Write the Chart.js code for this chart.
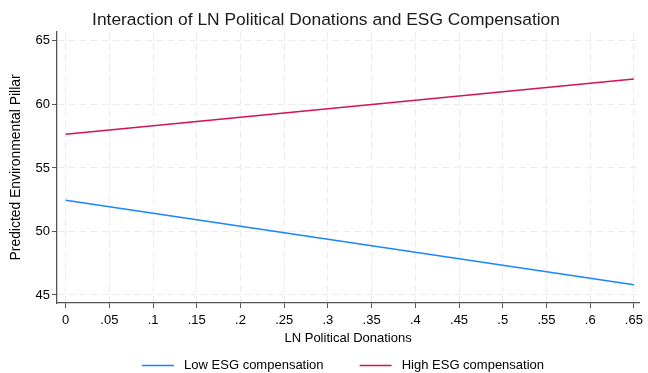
<!DOCTYPE html>
<html>
<head>
<meta charset="utf-8">
<title>Interaction of LN Political Donations and ESG Compensation</title>
<script src="https://cdn.jsdelivr.net/npm/chart.js@4.4.1/dist/chart.umd.min.js"></script>
<style>
  html, body { margin: 0; padding: 0; background: #fff; }
  #wrap { width: 648px; height: 373px; }
</style>
</head>
<body>
<div id="wrap"><canvas id="c" width="648" height="373"></canvas></div>
<script>
// Predicted margins at the ends of the LN Political Donations range
const donations = [0, 0.65];
const lowESG = [52.45, 45.80];
const highESG = [57.65, 62.00];

// Axis ticks and their labels
const xTicks = [0, 0.05, 0.1, 0.15, 0.2, 0.25, 0.3, 0.35, 0.4, 0.45, 0.5, 0.55, 0.6, 0.65];
const xTickLabels = ['0', '.05', '.1', '.15', '.2', '.25', '.3', '.35', '.4', '.45', '.5', '.55', '.6', '.65'];
const yTicks = [45, 50, 55, 60, 65];

const seriesNames = ['Low ESG compensation', 'High ESG compensation'];
const seriesColors = ['#1a85ff', '#d41159'];

Chart.defaults.font.family = "'Liberation Sans', Arial, sans-serif";
Chart.defaults.color = '#000';

const toPoints = ys => donations.map((x, i) => ({ x: x, y: ys[i] }));

const gridStyle = {
  color: '#ebebeb',
  lineWidth: 1,
  tickColor: '#555',
  tickLength: 5,
  tickWidth: 1,
  tickBorderDash: []
};
const borderStyle = { color: '#555', width: 1.3, dash: [7, 4] };

// Legend entries: a little air after each key line, a wider gap between entries
const legendLabels = chart =>
  Chart.defaults.plugins.legend.labels.generateLabels(chart).map((item, i, all) => {
    item.text = ' ' + item.text + (i < all.length - 1 ? '\u2003\u2003' : ' \u2002');
    return item;
  });

new Chart(document.getElementById('c'), {
  type: 'line',
  data: {
    datasets: [
      {
        label: seriesNames[0],
        data: toPoints(lowESG),
        borderColor: seriesColors[0],
        backgroundColor: seriesColors[0],
        borderWidth: 1.5,
        pointRadius: 0,
        tension: 0
      },
      {
        label: seriesNames[1],
        data: toPoints(highESG),
        borderColor: seriesColors[1],
        backgroundColor: seriesColors[1],
        borderWidth: 1.5,
        pointRadius: 0,
        tension: 0
      }
    ]
  },
  options: {
    responsive: false,
    animation: false,
    devicePixelRatio: 1,
    layout: { padding: { left: 10, right: 6, top: 0, bottom: -9 } },
    plugins: {
      title: {
        display: true,
        text: 'Interaction of LN Political Donations and ESG Compensation',
        color: '#1a1a1a',
        font: { size: 17.4, weight: 'normal' },
        padding: { top: 10, bottom: 1 }
      },
      legend: {
        position: 'bottom',
        fullSize: false,
        labels: {
          usePointStyle: true,
          pointStyle: 'line',
          pointStyleWidth: 32,
          font: { size: 13 },
          color: '#000',
          padding: 10,
          generateLabels: legendLabels
        }
      },
      tooltip: { enabled: false }
    },
    scales: {
      x: {
        type: 'linear',
        min: -0.0099,
        max: 0.656,
        afterBuildTicks: s => { s.ticks = xTicks.map(v => ({ value: v })); },
        afterFit: s => { s.height = 46; },
        ticks: {
          autoSkip: false,
          maxRotation: 0,
          padding: 5,
          font: { size: 13 },
          color: '#000',
          callback: (v, i) => xTickLabels[i]
        },
        grid: gridStyle,
        border: borderStyle,
        title: {
          display: true,
          text: 'LN Political Donations',
          font: { size: 13 },
          color: '#000',
          padding: { top: 0, bottom: 3 }
        }
      },
      y: {
        type: 'linear',
        min: 44.37,
        max: 65.71,
        afterBuildTicks: s => { s.ticks = yTicks.map(v => ({ value: v })); },
        afterFit: s => { s.width = 47; },
        ticks: {
          padding: 2,
          font: { size: 13 },
          color: '#000',
          callback: v => String(v)
        },
        grid: gridStyle,
        border: borderStyle,
        title: {
          display: true,
          text: 'Predicted Environmental Pillar',
          font: { size: 13.9 },
          color: '#000',
          padding: { top: -1.8, bottom: 0 }
        }
      }
    }
  }
});
</script>
</body>
</html>
